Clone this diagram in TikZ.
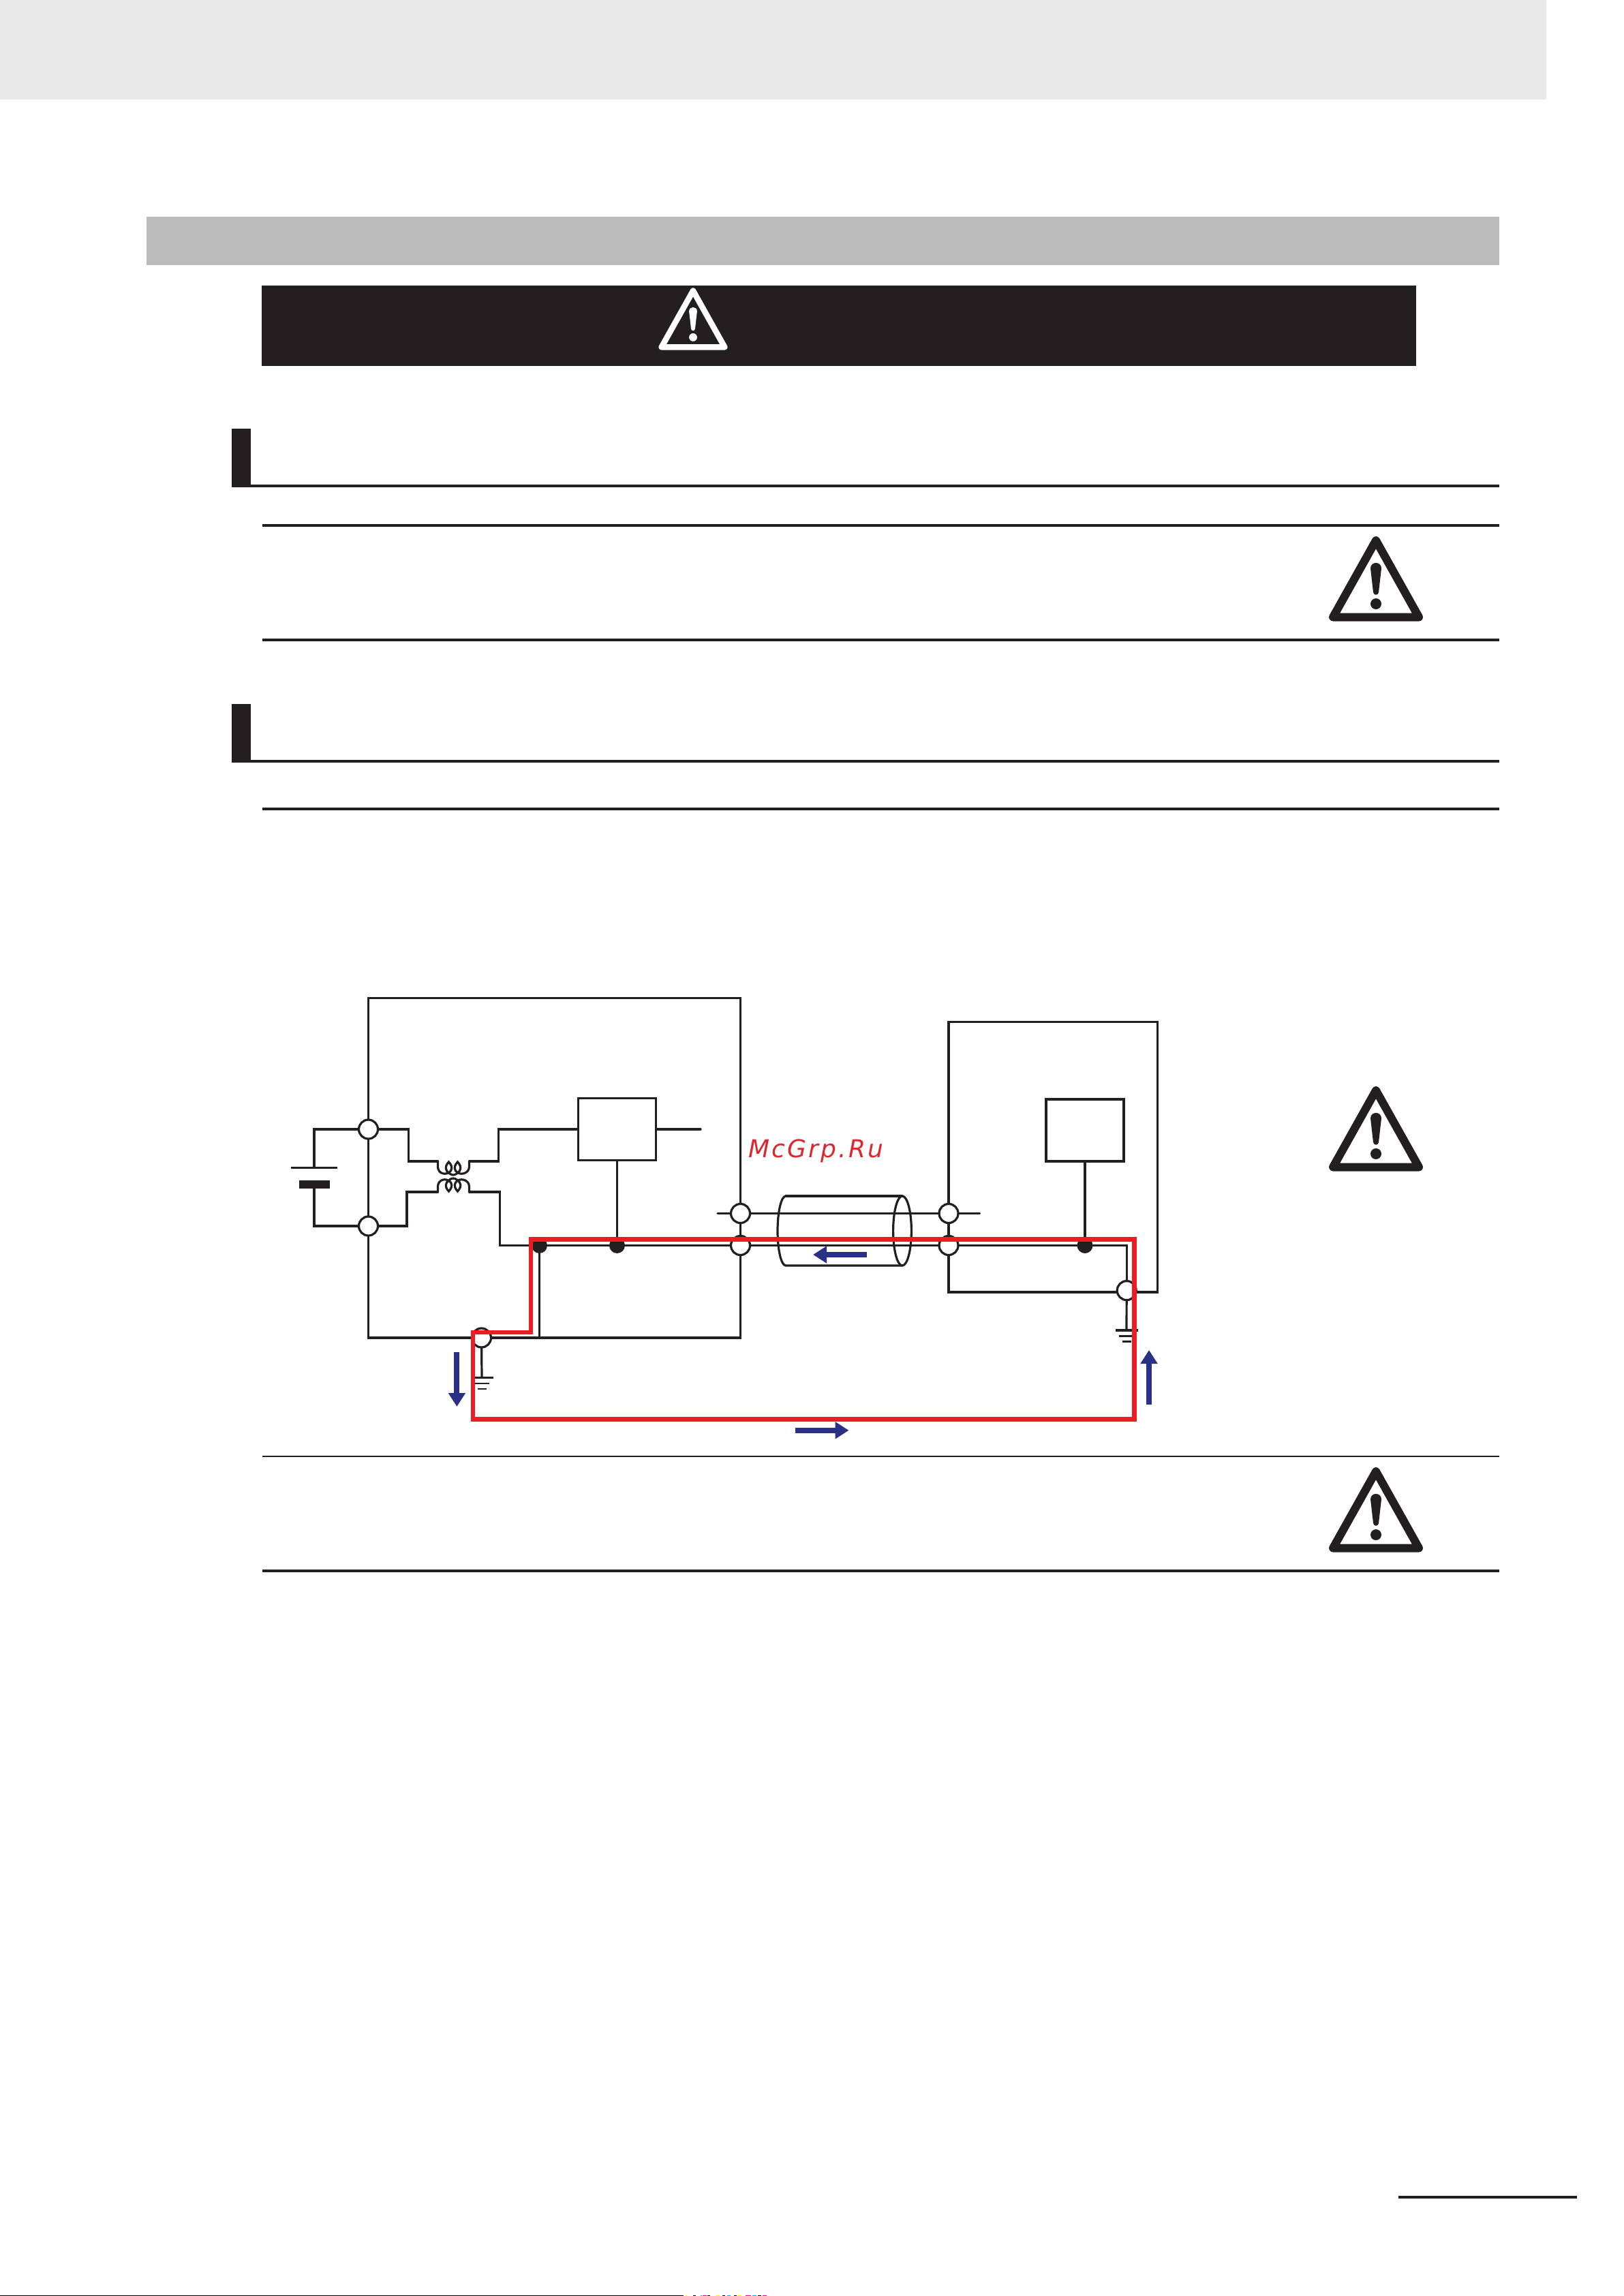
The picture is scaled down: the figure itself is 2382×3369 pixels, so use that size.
\documentclass[tikz,border=0pt]{standalone}
\usepackage{fontspec}
\usetikzlibrary{arrows.meta}
\newfontfamily\markfont[LetterSpace=9]{DejaVu Sans}
\definecolor{ink}{RGB}{35,31,32}
\definecolor{faultred}{RGB}{237,28,36}
\definecolor{markred}{RGB}{217,40,47}
\definecolor{flowblue}{RGB}{43,48,135}
\definecolor{topgrey}{RGB}{232,232,232}
\definecolor{bandgrey}{RGB}{187,187,187}
\tikzstyle{sheet}=[
    x=1pt,y=-1pt,
    rule/.style={ink,line width=4pt},
    wire/.style={ink,line width=3.2pt,line cap=round,line join=miter},
    case/.style={rectangle,draw=ink,line width=3.2pt,inner sep=0,outer sep=0},
    term/.style={circle,draw=ink,fill=white,line width=3.2pt,minimum size=28pt,inner sep=0,outer sep=0},
    dot/.style={circle,fill=ink,minimum size=23pt,inner sep=0,outer sep=0},
    plate/.style={rectangle,fill=ink,inner sep=0,outer sep=0},
    fault/.style={faultred,line width=6.2pt,line join=miter},
    flow/.style={flowblue,line width=8pt,-{Triangle[length=20pt,width=24pt]}},
    icon edge/.style={line join=round},
]
\newcommand{\warnicon}[2][]{
    \begin{scope}[#1]
    \draw[icon edge,draw=#2] (-63,55.5) -- (63,55.5) -- (0,-57) -- cycle;
    \fill[#2] (-8,-16) .. controls (-8,-26.7) and (8,-26.7) .. (8,-16)
        -- (4,19) .. controls (3.5,24) and (-3.5,24) .. (-4,19) -- cycle;
    \fill[#2] (0,36) circle (8);
    \end{scope}
}
\newcommand{\coil}[1][]{
    \begin{scope}[#1]
    \draw[wire,line cap=butt] (0,0) -- (0,8)
        .. controls (0,18) and (12,22) .. (19,14)
        .. controls (22,9) and (19,4) .. (16,1)
        .. controls (13,4) and (10,9) .. (13,14)
        .. controls (20,22) and (25,22) .. (32,14)
        .. controls (35,9) and (32,4) .. (29,1)
        .. controls (26,4) and (23,9) .. (26,14)
        .. controls (32,22) and (46,18) .. (46,8) -- (46,0);
    \end{scope}
}
\newcommand{\earth}[3]{
    \node[plate,minimum width=33pt,minimum height=3.4pt] (#1) at (#2,#3) {};
    \draw[wire,line cap=butt,line width=2.4pt]
        (#1.center) +(-11,8.5) -- +(11,8.5) +(-6.5,16.5) -- +(6.5,16.5);
}

\begin{document}
\begin{tikzpicture}[sheet]
    \useasboundingbox (0,0) rectangle (2382,3369);

    % page furniture
    \fill[topgrey] (0,0) rectangle (2269,146);
    \fill[bandgrey] (215,318) rectangle (2199.5,388.7);
    \fill[ink] (384,419) rectangle (2077.5,536.5);
    \fill[ink] (340,629) rectangle (368,715);
    \fill[ink] (340,1033) rectangle (368,1119);
    \draw[rule] (340,713) -- (2199.5,713);
    \draw[rule] (340,1117) -- (2199.5,1117);
    \foreach \y in {771,938.5,1186.5,2305}
        \draw[rule] (385,\y) -- (2199.5,\y);
    \draw[rule,line width=2.4pt] (385,2137) -- (2199.5,2137);
    \draw[rule] (2052,3224) -- (2313.5,3224);
    \fill[black] (0,3367.5) rectangle (1003,3369);
    \foreach \x/\w/\c in {1006/2/yellow,1017/4/black,1028/2/cyan,1031/6/magenta,1038/4/black,
        1051/5/yellow,1060/4/black,1067/5/cyan,1077/4/black,1082/6/yellow,1094/8/magenta,
        1104/6/cyan,1112/5/black,1119/6/magenta}
        \fill[\c] (\x,3367.5) rectangle (\x+\w,3369);

    \warnicon[shift={(1017,468.5)},scale=.735,line width=8.5pt]{white}
    \foreach \y in {850,1657,2216}{
        \warnicon[shift={(2019,\y)},line width=12pt]{ink}
    }

    % cases
    \node[case,minimum width=546pt,minimum height=498.5pt,anchor=north west] (drive) at (540.5,1464.5) {};
    \node[case,minimum width=306.5pt,minimum height=396.5pt,anchor=north west] (motor) at (1392,1499.5) {};
    \node[case,minimum width=114pt,minimum height=91pt] (boxA) at (905.5,1657) {};
    \node[case,minimum width=114pt,minimum height=91pt] (boxB) at (1592,1658.5) {};

    % supply
    \node[plate,minimum width=68pt,minimum height=3pt] (plateP) at (461,1713) {};
    \node[plate,minimum width=45pt,minimum height=12pt] (plateN) at (461,1738) {};

    % terminals and joints
    \foreach \n/\x/\y in {termA/540.5/1657,termB/540.5/1799,termT/1086.5/1780.5,termC/1086.5/1827.5,
        termU/1392/1780.5,termD/1392/1827.5,termG/1653.2/1893.6,termE/706.5/1963}
        \node[term] (\n) at (\x,\y) {};
    \foreach \n/\x/\y in {dotA/905.5/1827.5,dotB/791.5/1827.5,dotC/1592/1827.5}
        \node[dot] (\n) at (\x,\y) {};

    % transformer
    \coordinate (coilTL) at (642.5,1704);
    \coordinate (coilTR) at (688.5,1704);
    \coordinate (coilBL) at (642.5,1749);
    \coordinate (coilBR) at (688.5,1749);
    \coil[shift={(coilTL)}]
    \coil[shift={(coilBL)},yscale=-1]

    \coordinate (stubA) at (1028,1657);
    \coordinate (stubL) at (1053,1780.5);
    \coordinate (stubR) at (1437.5,1780.5);

    % wires
    \draw[wire] (termA) -| (plateP);
    \draw[wire] (termB) -| (plateN);
    \draw[wire] (termA) -- +(59,0) |- (coilTL);
    \draw[wire] (termB) -- +(56.5,0) |- (coilBL);
    \draw[wire] (coilTR) -- +(43,0) |- (boxA);
    \draw[wire] (coilBR) -- +(45,0) |- (dotB);
    \draw[wire] (boxA) -- (stubA);
    \draw[wire] (boxA) -- (dotA);
    \draw[wire] (dotB) -- (dotA);
    \draw[wire] (dotA) -- (termC);
    \draw[wire] (dotB) -- (dotB |- drive.south);
    \draw[wire] (termT) -- (stubL);
    \draw[wire] (termT) -- (termU);
    \draw[wire] (termU) -- (stubR);
    \draw[wire] (termC) -- (termD);
    \draw[wire] (termD) -- (dotC);
    \draw[wire] (boxB) -- (dotC);
    \draw[wire] (dotC) -| (termG);

    % grounds
    \earth{earthE}{707}{2021.5}
    \earth{earthG}{1653}{1952}
    \draw[wire] (termE) -- (earthE);
    \draw[wire] (termG) -- (earthG);

    % cable
    \draw[wire] (1153,1755) arc (270:90:12 and 51) -- (1324,1857);
    \draw[wire] (1153,1755) -- (1324,1755);
    \draw[wire] (1324,1806) ellipse (13.4 and 51);

    % return loop
    \foreach \n/\x/\y in {loopA/779/1955,loopB/779/1818.5,loopC/1664.5/1818.5,
        loopD/1664.5/2082.5,loopE/694/2082.5,loopF/694/1955}
        \coordinate (\n) at (\x,\y);
    \draw[fault] (loopA) -- (loopB) -- (loopC) -- (loopD) -- (loopE) -- (loopF) -- cycle;

    % flow arrows
    \foreach \n/\xa/\ya/\xb/\yb in {flowC/1272/1841/1193/1841,flowR/1167/2098.8/1245.5/2098.8,
        flowU/1686/2061/1686/1981,flowD/670.4/1984/670.4/2064}{
        \coordinate (\n a) at (\xa,\ya);
        \coordinate (\n b) at (\xb,\yb);
        \draw[flow] (\n a) -- (\n b);
    }

    \node[anchor=base west,inner sep=0,text=markred,font={\markfont\itshape\fontsize{36}{40}\selectfont}] (mark) at (1098,1698.5) {McGrp.Ru};

\end{tikzpicture}
\end{document}
